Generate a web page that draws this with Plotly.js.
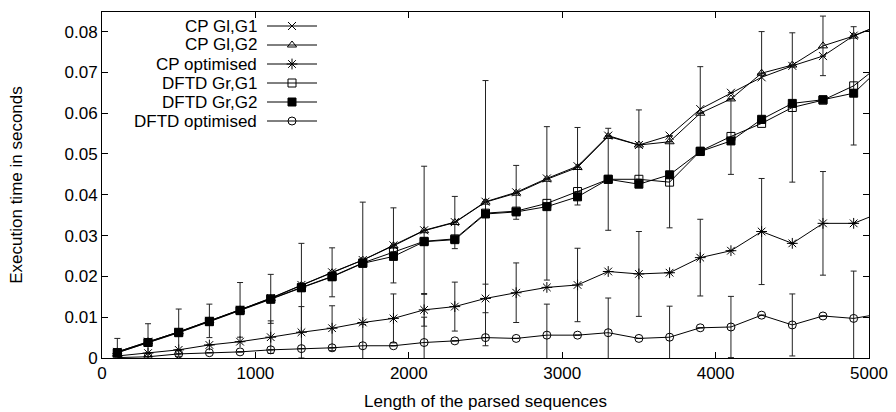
<!DOCTYPE html>
<html>
<head>
<meta charset="utf-8">
<script src="https://cdn.plot.ly/plotly-3.0.1.min.js"></script>
<style>html,body{margin:0;padding:0;background:#fff;}#chart{width:896px;height:412px;}</style>
</head>
<body>
<div id="chart"></div>
<script>
// sequence lengths (last point lies beyond the visible range, lines run off the edge)
var lengths = [100,300,500,700,900,1100,1300,1500,1700,1900,2100,2300,2500,2700,2900,3100,3300,3500,3700,3900,4100,4300,4500,4700,4900,5100];

var seriesNames = ["CP Gl,G1","CP Gl,G2","CP optimised","DFTD Gr,G1","DFTD Gr,G2","DFTD optimised"];

var cpG1   = [0.0015,0.004,0.0064,0.0091,0.0118,0.0147,0.0179,0.021,0.024,0.0276,0.0313,0.0333,0.0383,0.0406,0.044,0.047,0.0545,0.0522,0.0545,0.061,0.065,0.0688,0.0716,0.074,0.079,0.082];
var cpG2   = [0.0015,0.004,0.0064,0.0091,0.0118,0.0146,0.0178,0.0209,0.024,0.0275,0.0312,0.0332,0.0382,0.0404,0.0438,0.0467,0.0543,0.0522,0.053,0.06,0.0635,0.0698,0.0718,0.0765,0.0789,0.082];
var cpOpt  = [0.0005,0.0012,0.002,0.0032,0.004,0.0051,0.0063,0.0073,0.0087,0.0097,0.0118,0.0126,0.0146,0.016,0.0173,0.0179,0.0212,0.0206,0.0209,0.0246,0.0263,0.031,0.0281,0.033,0.033,0.036];
var dftdG1 = [0.0013,0.0038,0.0063,0.009,0.0117,0.0145,0.0173,0.02,0.0233,0.026,0.0286,0.0292,0.0355,0.036,0.0379,0.0408,0.0438,0.0438,0.0431,0.0507,0.0543,0.0575,0.0614,0.0632,0.0667,0.0726];
var dftdG2 = [0.0013,0.0038,0.0062,0.0089,0.0116,0.0144,0.0172,0.0199,0.0232,0.0249,0.0285,0.029,0.0353,0.0358,0.0371,0.0395,0.0438,0.0426,0.0449,0.0506,0.0532,0.0585,0.0624,0.0633,0.0649,0.072];
var dftdOpt= [0.0001,0.0003,0.001,0.0013,0.0015,0.002,0.0023,0.0025,0.003,0.003,0.0038,0.0042,0.005,0.0048,0.0056,0.0056,0.0062,0.0048,0.0051,0.0074,0.0076,0.0105,0.0081,0.0103,0.0097,0.011];

// error bar half-widths (null = bar hidden behind markers / not readable)
var errCpG1   = [null,null,null,0.0041,0.0067,null,null,0.006,null,0.0092,0.0157,null,null,0.0066,null,0.0095,null,null,null,0.0104,null,0.0112,null,null,null,null];
var errCpG2   = [null,null,null,null,null,null,null,null,null,null,null,0.0064,null,null,null,null,null,0.0086,null,null,null,null,null,0.0073,null,null];
var errCpOpt  = [null,null,null,null,null,0.004,0.0063,0.0055,null,0.006,0.004,0.006,0.0035,0.0073,null,0.009,null,0.0104,null,0.0094,null,0.013,null,0.0127,null,null];
var errDftdG1 = [null,null,null,null,null,0.006,0.0108,null,null,null,null,null,0.0325,null,0.0188,null,0.0125,null,0.0112,null,0.0093,null,0.0183,null,0.0145,null];
var errDftdG2 = [0.0035,0.0046,0.0058,null,null,null,null,null,0.015,null,null,null,null,null,null,null,null,null,null,null,null,null,null,null,null,null];
var errDftdOpt= [null,null,null,null,null,null,null,null,0.0052,null,0.0062,null,null,null,0.0076,null,0.0085,null,0.0076,null,0.0075,null,0.0076,null,0.0116,null];

var xTicks = [0,1000,2000,3000,4000,5000];
var yTicks = [0,0.01,0.02,0.03,0.04,0.05,0.06,0.07,0.08];

var values  = [cpG1,cpG2,cpOpt,dftdG1,dftdG2,dftdOpt];
var errs    = [errCpG1,errCpG2,errCpOpt,errDftdG1,errDftdG2,errDftdOpt];
var symbols = ["x-thin-open","triangle-up-open","asterisk-open","square-open","square","circle-open"];
var sizes   = [8,8,9,8,8,8];

var FONT = "Liberation Sans, Arial, sans-serif";
var PLOT_TOP = 12, PLOT_H = 346, PLOT_L = 102, PLOT_W = 767;
var FIRST_ROW = 26;   // wanted centre of first legend row (px)

var traces = values.map(function(v,i){
  return {
    x: lengths, y: v, type: "scatter", mode: "lines+markers",
    name: " ",
    line: {color: "#000", width: 1},
    marker: {symbol: symbols[i], size: sizes[i], color: "#000", line: {color: "#000", width: 1}},
    error_y: {type: "data", array: errs[i], visible: true, color: "#222", thickness: 1, width: 3},
    cliponaxis: true
  };
});

function makeAnnotations(rowsPx){
  return seriesNames.map(function(n,i){
    return {
      xref: "paper", yref: "paper",
      x: (259-PLOT_L)/PLOT_W, y: (PLOT_TOP+PLOT_H-rowsPx[i])/PLOT_H,
      xanchor: "right", yanchor: "middle",
      text: n, showarrow: false,
      font: {family: FONT, size: 17, color: "#000"}
    };
  });
}

var layout = {
  width: 896, height: 412,
  margin: {l: PLOT_L, r: 27, t: PLOT_TOP, b: 54},
  paper_bgcolor: "#fff", plot_bgcolor: "#fff",
  font: {family: FONT, size: 17, color: "#000"},
  showlegend: true,
  legend: {
    x: (262-PLOT_L)/PLOT_W, y: (PLOT_TOP+PLOT_H-14)/PLOT_H, xanchor: "left", yanchor: "top",
    bgcolor: "rgba(0,0,0,0)", borderwidth: 0,
    font: {family: FONT, size: 10},
    itemwidth: 50, tracegroupgap: 0
  },
  xaxis: {
    range: [0,5000], tickvals: xTicks, ticktext: xTicks.map(String),
    ticks: "inside", ticklen: 6, tickcolor: "#000", mirror: "allticks",
    showline: true, linecolor: "#000", linewidth: 1, showgrid: false, zeroline: false,
    tickfont: {family: FONT, size: 17},
    title: {text: "Length of the parsed sequences", font: {family: FONT, size: 17}, standoff: 12}
  },
  yaxis: {
    range: [0,0.0848], tickvals: yTicks, ticktext: yTicks.map(String),
    ticks: "inside", ticklen: 6, tickcolor: "#000", mirror: "allticks",
    showline: true, linecolor: "#000", linewidth: 1, showgrid: false, zeroline: false,
    tickfont: {family: FONT, size: 17},
    title: {text: "Execution time in seconds", font: {family: FONT, size: 17}, standoff: 37}
  },
  annotations: makeAnnotations([26,44,62,80,98,116])
};

var gd = document.getElementById("chart");

function legendRows(){
  var base = gd.getBoundingClientRect();
  var groups = gd.querySelectorAll(".legend .traces");
  var rows = [];
  groups.forEach(function(g){
    var p = g.querySelector(".legendlines path") || g.querySelector(".legendpoints path");
    var r = p.getBoundingClientRect();
    rows.push(r.top + r.height/2 - base.top);
  });
  return rows;
}

Plotly.newPlot(gd, traces, layout, {staticPlot: true, displayModeBar: false}).then(function(){
  var rows = legendRows();
  if (!rows.length) return;
  var shift = rows[0] - FIRST_ROW;
  var newY = layout.legend.y + shift/PLOT_H;
  return Plotly.relayout(gd, {"legend.y": newY}).then(function(){
    var r2 = legendRows();
    return Plotly.relayout(gd, {annotations: makeAnnotations(r2)});
  });
});
</script>
</body>
</html>
